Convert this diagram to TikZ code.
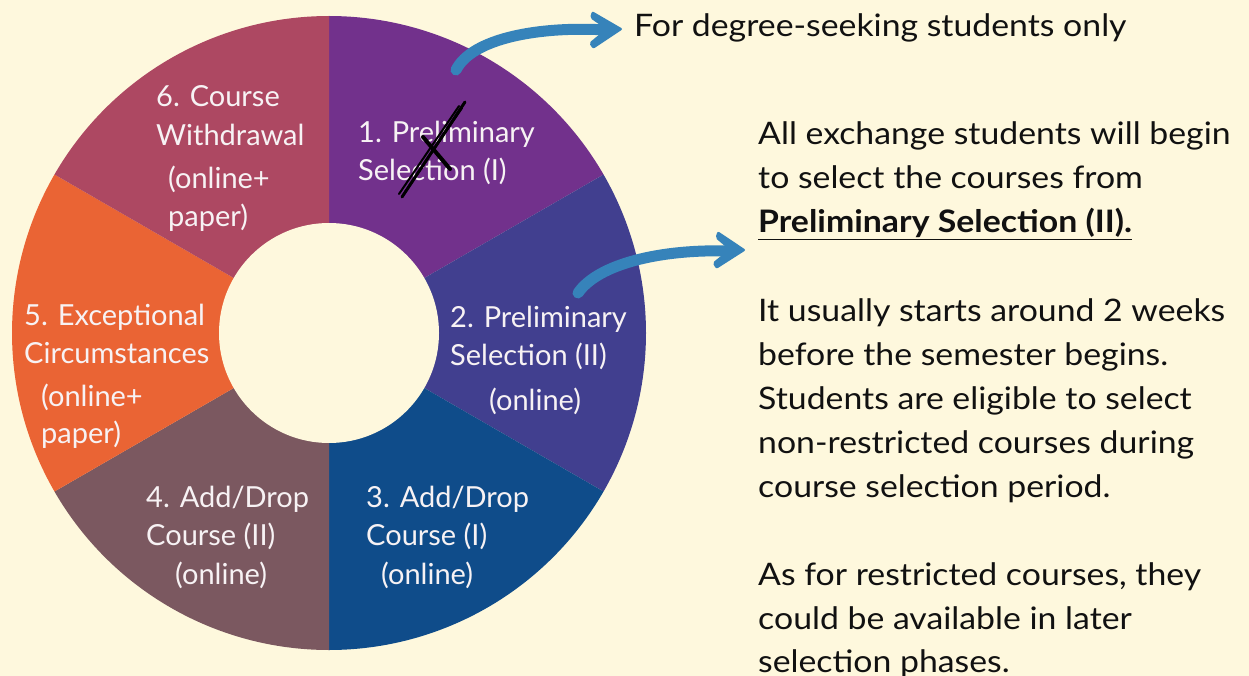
\documentclass[tikz,border=0pt]{standalone}
\usepackage{fontspec}
\setmainfont{Lato}
\newfontfamily\rtfont[FakeStretch=1.09]{Lato}
\definecolor{bg}{HTML}{FEF8DD}
\definecolor{cA}{HTML}{72318C}
\definecolor{cB}{HTML}{413F8F}
\definecolor{cC}{HTML}{0F4C8A}
\definecolor{cD}{HTML}{7B5860}
\definecolor{cE}{HTML}{EA6434}
\definecolor{cF}{HTML}{AD4862}
\definecolor{arrowblue}{HTML}{3683BA}
\definecolor{wtxt}{HTML}{F7F2F4}
\definecolor{btxt}{HTML}{111111}
\begin{document}
\begin{tikzpicture}[x=1pt,y=-1pt,
  wl/.style={anchor=base west,inner sep=0pt,text=wtxt,font=\fontsize{29}{34}\selectfont},
  rt/.style={anchor=base west,inner sep=0pt,text=btxt,font=\rtfont\fontsize{31}{37}\selectfont},
  blueshaft/.style={draw=arrowblue,line width=11pt,line cap=round},
  bluehead/.style={fill=arrowblue,rounded corners=2pt},
  crossline/.style={draw=black,line cap=round}]
\useasboundingbox (0,0) rectangle (1249,676);
\fill[bg] (0,0) rectangle (1249,676);
\clip (0,0) rectangle (1249,676);
\coordinate (C) at (329,333);
% wedges
\fill[cA] (C) -- ++(-90:317) arc[start angle=-90,end angle=-30,radius=317] -- cycle;
\fill[cB] (C) -- ++(-30:317) arc[start angle=-30,end angle=30,radius=317] -- cycle;
\fill[cC] (C) -- ++(30:317) arc[start angle=30,end angle=90,radius=317] -- cycle;
\fill[cD] (C) -- ++(90:317) arc[start angle=90,end angle=150,radius=317] -- cycle;
\fill[cE] (C) -- ++(150:317) arc[start angle=150,end angle=210,radius=317] -- cycle;
\fill[cF] (C) -- ++(210:317) arc[start angle=210,end angle=270,radius=317] -- cycle;
\fill[bg] (C) circle[radius=110];
% wedge labels
\node[wl] (w1a) at (358,143) {1. Preliminary};
\node[wl] (w1b) at (358,181) {Selection (I)};
\node[wl] (w2a) at (450,327) {2. Preliminary};
\node[wl] (w2b) at (450,365) {Selection (II)};
\node[wl] (w2c) at (489,410) {(online)};
\node[wl] (w3a) at (366,507) {3. Add/Drop};
\node[wl] (w3b) at (366,545) {Course (I)};
\node[wl] (w3c) at (381,584) {(online)};
\node[wl] (w4a) at (146,507) {4. Add/Drop};
\node[wl] (w4b) at (146,545) {Course (II)};
\node[wl] (w4c) at (175,584) {(online)};
\node[wl] (w5a) at (24,325) {5. Exceptional};
\node[wl] (w5b) at (24,363) {Circumstances};
\node[wl] (w5c) at (41,406) {(online+};
\node[wl] (w5d) at (41,443) {paper)};
\node[wl] (w6a) at (156,107) {6. Course};
\node[wl] (w6b) at (156,146) {Withdrawal};
\node[wl] (w6c) at (168,189) {(online+};
\node[wl] (w6d) at (168,226) {paper)};
% hand-drawn cross
\path[crossline,line width=3pt] (402,197) -- (465,102);
\path[crossline,line width=2pt] (399,194) -- (459,106);
\path[crossline,line width=2pt] (405,192) -- (462,108);
\path[crossline,line width=4pt] (423,137) -- (450,169);
% right texts
\node[rt] (t0) at (634,37) {For degree-seeking students only};
\node[rt] (p1) at (758,145) {All exchange students will begin};
\node[rt] (p2) at (758,189) {to select the courses from};
\node[rt] (p3) at (758,233) {\underline{\textbf{Preliminary Selection (II).}}};
\node[rt] (p4) at (758,321) {It usually starts around 2 weeks};
\node[rt] (p5) at (758,365) {before the semester begins.};
\node[rt] (p6) at (758,409) {Students are eligible to select};
\node[rt] (p7) at (758,453) {non-restricted courses during};
\node[rt] (p8) at (758,497) {course selection period.};
\node[rt] (p9) at (758,585) {As for restricted courses, they};
\node[rt] (p10) at (758,629) {could be available in later};
\node[rt] (p11) at (758,672) {selection phases.};
% arrows
\coordinate (a1s) at (456,70);
\coordinate (a1n) at (606,30);
\coordinate (a1e) at (622,29);
\coordinate (a2s) at (578,293);
\coordinate (a2n) at (729,251);
\coordinate (a2e) at (745,250);
\draw[blueshaft] (a1s) .. controls (472,38) and (540,26) .. (a1n);
\draw[blueshaft] (a2s) .. controls (598,264) and (660,249) .. (a2n);
\fill[bluehead,shift={(a1e)}] (1,0) -- (-30,-18) -- (-32,-11) -- (-16,0) -- (-33,14) -- (-29,20) -- cycle;
\fill[bluehead,shift={(a2e)},rotate=-2] (1,0) -- (-28,-18) -- (-30,-11) -- (-16,0) -- (-32,14) -- (-28,20) -- cycle;
\end{tikzpicture}
\end{document}
